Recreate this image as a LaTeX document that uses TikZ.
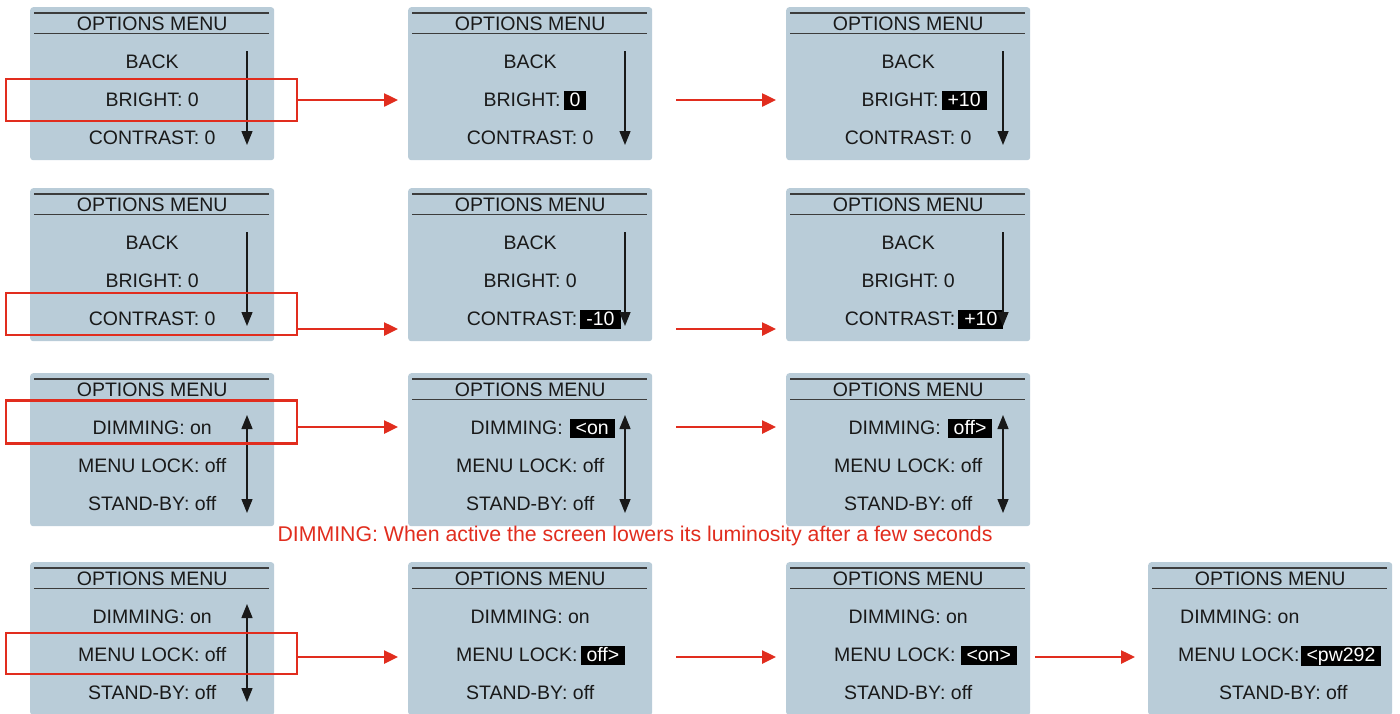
\documentclass[tikz,border=0pt]{standalone}
\usepackage{fontspec}
\setmainfont{Liberation Sans}
\usetikzlibrary{arrows.meta}
\definecolor{panelc}{RGB}{185,204,216}
\definecolor{redc}{RGB}{225,45,30}
\definecolor{txt}{RGB}{25,25,25}
\newcommand\hl[1]{{\setlength\fboxsep{0pt}\colorbox{black}{\color{white}\hspace{6pt}\rule[-3.5pt]{0pt}{19.5pt}#1\hspace{6pt}}}}
\newcommand\keepleft[2]{\makebox[0pt][l]{#2}\phantom{#1}}
\tikzset{
  panel/.style={fill=panelc, rounded corners=3pt, minimum width=244pt, minimum height=153pt, inner sep=0pt, anchor=north west},
  hdr/.style={draw=txt!85, line width=1.2pt},
  lbl/.style={font=\fontsize{19.5}{22}\selectfont, text=txt, anchor=base, inner sep=0pt},
  lblw/.style={lbl, anchor=base west},
  scroll/.style={draw=txt, line width=1.4pt, -{Triangle[length=14pt,width=11pt]}},
  scrollboth/.style={draw=txt, line width=1.4pt, {Triangle[length=14pt,width=11pt]}-{Triangle[length=14pt,width=11pt]}},
  redbox/.style={draw=redc, line width=2.5pt, minimum width=291pt, inner sep=0pt},
  redarrow/.style={draw=redc, line width=2.5pt, -{Triangle[length=14pt,width=13pt]}},
}
\newcommand\mkpanel[3]{%
  \node[panel] (#1) at (#2,#3) {};
  \draw[hdr] ([shift={(4,6)}]#1.north west) -- ([shift={(-5,6)}]#1.north east);
  \draw[hdr] ([shift={(4,26.5)}]#1.north west) -- ([shift={(-5,26.5)}]#1.north east);
  \node[lbl] (#1t) at ([yshift=-23.5pt]#1.north) {OPTIONS MENU};
}
\newcommand\mkrows[4]{%
  \node[lbl] (#1a) at ([yshift=-61.5pt]#1.north) {#2};
  \node[lbl] (#1b) at ([yshift=-99.5pt]#1.north) {#3};
  \node[lbl] (#1c) at ([yshift=-137.5pt]#1.north) {#4};
}
\newcommand\scrolldown[1]{\draw[scroll] ([shift={(217,44)}]#1.north west) -- ([shift={(217,138)}]#1.north west);}
\newcommand\scrollboth[1]{\draw[scrollboth] ([shift={(217,42)}]#1.north west) -- ([shift={(217,140)}]#1.north west);}
\begin{document}
\begin{tikzpicture}[x=1pt,y=-1pt]
\fill[white] (0,0) rectangle (1400,713);
\useasboundingbox (0,0) rectangle (1400,713);

% ---------- row 1 ----------
\mkpanel{p11}{30}{7}
\mkrows{p11}{BACK}{BRIGHT: 0}{CONTRAST: 0}
\scrolldown{p11}
\mkpanel{p12}{408}{7}
\mkrows{p12}{BACK}{\keepleft{BRIGHT: 0}{BRIGHT:\hspace{3pt}\hl{0}}}{CONTRAST: 0}
\scrolldown{p12}
\mkpanel{p13}{786}{7}
\mkrows{p13}{BACK}{\keepleft{BRIGHT: 0}{BRIGHT:\hspace{3pt}\hl{+10}}}{CONTRAST: 0}
\scrolldown{p13}

% ---------- row 2 ----------
\mkpanel{p21}{30}{188}
\mkrows{p21}{BACK}{BRIGHT: 0}{CONTRAST: 0}
\scrolldown{p21}
\mkpanel{p22}{408}{188}
\mkrows{p22}{BACK}{BRIGHT: 0}{\keepleft{CONTRAST: 0}{CONTRAST:\hspace{3pt}\hl{-10}}}
\scrolldown{p22}
\mkpanel{p23}{786}{188}
\mkrows{p23}{BACK}{BRIGHT: 0}{\keepleft{CONTRAST: 0}{CONTRAST:\hspace{3pt}\hl{+10}}}
\scrolldown{p23}

% ---------- row 3 ----------
\mkpanel{p31}{30}{373}
\mkrows{p31}{DIMMING: on}{MENU LOCK: off}{STAND-BY: off}
\scrollboth{p31}
\mkpanel{p32}{408}{373}
\mkrows{p32}{\keepleft{DIMMING: on}{DIMMING:\hspace{7pt}\hl{<on}}}{MENU LOCK: off}{STAND-BY: off}
\scrollboth{p32}
\mkpanel{p33}{786}{373}
\mkrows{p33}{\keepleft{DIMMING: on}{DIMMING:\hspace{7pt}\hl{off>}}}{MENU LOCK: off}{STAND-BY: off}
\scrollboth{p33}

\node[font=\fontsize{21.3}{24}\selectfont, text=redc, inner sep=0pt] (cap) at (635,536)
  {DIMMING: When active the screen lowers its luminosity after a few seconds};

% ---------- row 4 ----------
\mkpanel{p41}{30}{562}
\mkrows{p41}{DIMMING: on}{MENU LOCK: off}{STAND-BY: off}
\scrollboth{p41}
\mkpanel{p42}{408}{562}
\mkrows{p42}{DIMMING: on}{\keepleft{MENU LOCK: off}{MENU LOCK:\hspace{3pt}\hl{off>}}}{STAND-BY: off}
\mkpanel{p43}{786}{562}
\mkrows{p43}{DIMMING: on}{\keepleft{MENU LOCK: off}{MENU LOCK:\hspace{5pt}\hl{<on>}}}{STAND-BY: off}
\mkpanel{p44}{1148}{562}
\node[lblw] (p44a) at (1180,623.5) {DIMMING: on};
\node[lblw] (p44b) at (1178,661.5) {MENU LOCK:\hspace{1pt}\hl{<pw292}};
\node[lblw] (p44c) at (1219,699.5) {STAND-BY: off};

% ---------- red selection boxes ----------
\node[redbox, minimum height=42pt] (rb1) at (151.5,100) {};
\node[redbox, minimum height=42pt] (rb2) at (151.5,314) {};
\node[redbox, minimum height=43pt] (rb3) at (151.5,422) {};
\node[redbox, minimum height=41pt] (rb4) at (151.5,653.5) {};

% ---------- red arrows ----------
\coordinate (e11) at (398,100);
\coordinate (s12) at (676,100);
\coordinate (e12) at (776,100);
\coordinate (e21) at (398,329);
\coordinate (s22) at (676,329);
\coordinate (e22) at (776,329);
\coordinate (e31) at (398,427);
\coordinate (s32) at (676,427);
\coordinate (e32) at (776,427);
\coordinate (e41) at (398,657);
\coordinate (s42) at (676,657);
\coordinate (e42) at (776,657);
\coordinate (s43) at (1035,657);
\coordinate (e43) at (1135,657);

\draw[redarrow] (rb1.east |- e11) -- (e11);
\draw[redarrow] (s12) -- (e12);
\draw[redarrow] (rb2.east |- e21) -- (e21);
\draw[redarrow] (s22) -- (e22);
\draw[redarrow] (rb3.east |- e31) -- (e31);
\draw[redarrow] (s32) -- (e32);
\draw[redarrow] (rb4.east |- e41) -- (e41);
\draw[redarrow] (s42) -- (e42);
\draw[redarrow] (s43) -- (e43);
\end{tikzpicture}
\end{document}
